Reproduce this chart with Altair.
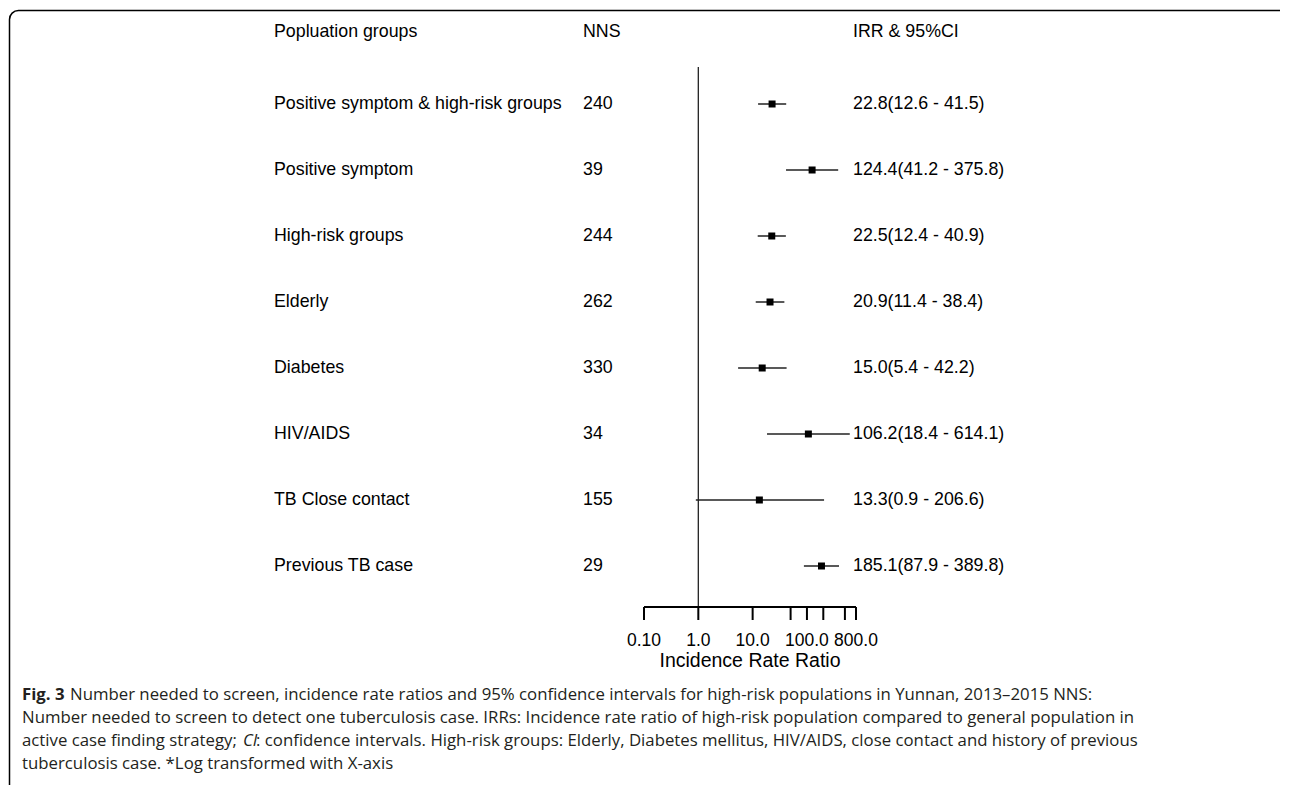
import altair as alt
import pandas as pd

groups = ["Positive symptom & high-risk groups", "Positive symptom", "High-risk groups",
          "Elderly", "Diabetes", "HIV/AIDS", "TB Close contact", "Previous TB case"]
nns = [240, 39, 244, 262, 330, 34, 155, 29]
irr = [22.8, 124.4, 22.5, 20.9, 15.0, 106.2, 13.3, 185.1]
lower = [12.6, 41.2, 12.4, 11.4, 5.4, 18.4, 0.9, 87.9]
upper = [41.5, 375.8, 40.9, 38.4, 42.2, 614.1, 206.6, 389.8]
tick_values = [0.1, 1, 10, 50, 100, 200, 500, 800]
label_values = [0.1, 1, 10, 100, 800]
label_texts = ["0.10", "1.0", "10.0", "100.0", "800.0"]
headers = ["Popluation groups", "NNS", "IRR & 95%CI"]
axis_title = "Incidence Rate Ratio"
cap_bold = "Fig. 3"
cap_l1 = "Number needed to screen, incidence rate ratios and 95% confidence intervals for high-risk populations in Yunnan, 2013\u20132015 NNS:"
cap_l2 = "Number needed to screen to detect one tuberculosis case. IRRs: Incidence rate ratio of high-risk population compared to general population in"
cap_l3a = "active case finding strategy;"
cap_l3i = "CI"
cap_l3b = ": confidence intervals. High-risk groups: Elderly, Diabetes mellitus, HIV/AIDS, close contact and history of previous"
cap_l4 = "tuberculosis case. *Log transformed with X-axis"

df = pd.DataFrame({
    "group": groups,
    "nns": [str(v) for v in nns],
    "irr": irr,
    "lower": lower,
    "upper": upper,
})
df["label"] = [f"{a:.1f}({b:.1f} - {c:.1f})" for a, b, c in zip(irr, lower, upper)]

xs = alt.Scale(type="log", domain=[0.1, 800], range=[636, 848])
ys = alt.Scale(type="point", domain=groups, range=[96, 558], padding=0)
Y = alt.Y("group:N", scale=ys, axis=None)

FONT = "Liberation Sans"
FS = 17.8
CAPFONT = "Open Sans"
CAPFS = 16.8
CAPCOL = "#231f20"

base = alt.Chart(df)

ci = base.mark_rule(color="#222222", strokeWidth=1.5).encode(
    x=alt.X("lower:Q", scale=xs, axis=None), x2="upper:Q", y=Y)
pts = base.mark_square(size=49, color="black", opacity=1).encode(
    x=alt.X("irr:Q", scale=xs, axis=None), y=Y)
txt_group = base.mark_text(align="left", baseline="middle", font=FONT, fontSize=FS, color="black").encode(
    x=alt.value(266), y=Y, text="group:N")
txt_nns = base.mark_text(align="left", baseline="middle", font=FONT, fontSize=FS, color="black").encode(
    x=alt.value(575), y=Y, text="nns:N")
txt_irr = base.mark_text(align="left", baseline="middle", font=FONT, fontSize=FS, color="black").encode(
    x=alt.value(845), y=Y, text="label:N")

hdf = pd.DataFrame({"h": headers})
def header(i, xpos):
    return alt.Chart(hdf.iloc[[i]]).mark_text(align="left", baseline="middle", font=FONT, fontSize=FS, color="black").encode(
        x=alt.value(xpos), y=alt.value(24), text="h:N")
h1 = header(0, 266)
h2 = header(1, 575)
h3 = header(2, 845)

ref = alt.Chart(pd.DataFrame({"v": [1.0]})).mark_rule(color="#222222", strokeWidth=1.3).encode(
    x=alt.X("v:Q", scale=xs, axis=None), y=alt.value(59), y2=alt.value(599))

dom = alt.Chart(pd.DataFrame({"lo": [min(tick_values)], "hi": [max(tick_values)]})).mark_rule(
    color="black", strokeWidth=2).encode(
    x=alt.X("lo:Q", scale=xs, axis=None), x2="hi:Q", y=alt.value(599))
ticks = alt.Chart(pd.DataFrame({"t": tick_values})).mark_rule(color="black", strokeWidth=2).encode(
    x=alt.X("t:Q", scale=xs, axis=None), y=alt.value(599), y2=alt.value(612))
tlabels = alt.Chart(pd.DataFrame({"t": label_values, "s": label_texts})).mark_text(
    align="center", baseline="middle", font=FONT, fontSize=17.5, color="black").encode(
    x=alt.X("t:Q", scale=xs, axis=None), y=alt.value(633), text="s:N")
atitle = alt.Chart(pd.DataFrame({"s": [axis_title]})).mark_text(
    align="center", baseline="middle", font=FONT, fontSize=19.5, color="black").encode(
    x=alt.value(742), y=alt.value(653), text="s:N")

def cap(s, xpos, ypos, weight="normal", style="normal"):
    return alt.Chart(pd.DataFrame({"s": [s]})).mark_text(
        align="left", baseline="middle", font=CAPFONT, fontSize=CAPFS, color=CAPCOL,
        fontWeight=weight, fontStyle=style).encode(
        x=alt.value(xpos), y=alt.value(ypos), text="s:N")

caps = [
    cap(cap_bold, 14, 687, weight="bold"),
    cap(cap_l1, 62, 687),
    cap(cap_l2, 14, 710),
    cap(cap_l3a, 14, 733),
    cap(cap_l3i, 235, 733, style="italic"),
    cap(cap_l3b, 248, 733),
    cap(cap_l4, 14, 756),
]

frame = alt.Chart(pd.DataFrame({"f": [0]})).mark_rect(
    fill="white", fillOpacity=0, stroke="black", strokeWidth=1.5, cornerRadius=9).encode(
    x=alt.value(1.5), x2=alt.value(1280), y=alt.value(2.5), y2=alt.value(900))

chart = alt.layer(
    frame, ref, ci, pts, txt_group, txt_nns, txt_irr, h1, h2, h3,
    dom, ticks, tlabels, atitle, *caps
).properties(
    width=1272, height=777, padding=0, autosize=alt.AutoSizeParams(type="none")
).configure_view(strokeWidth=0)

chart.save("out.html", embed_options={"renderer": "svg", "actions": False})
